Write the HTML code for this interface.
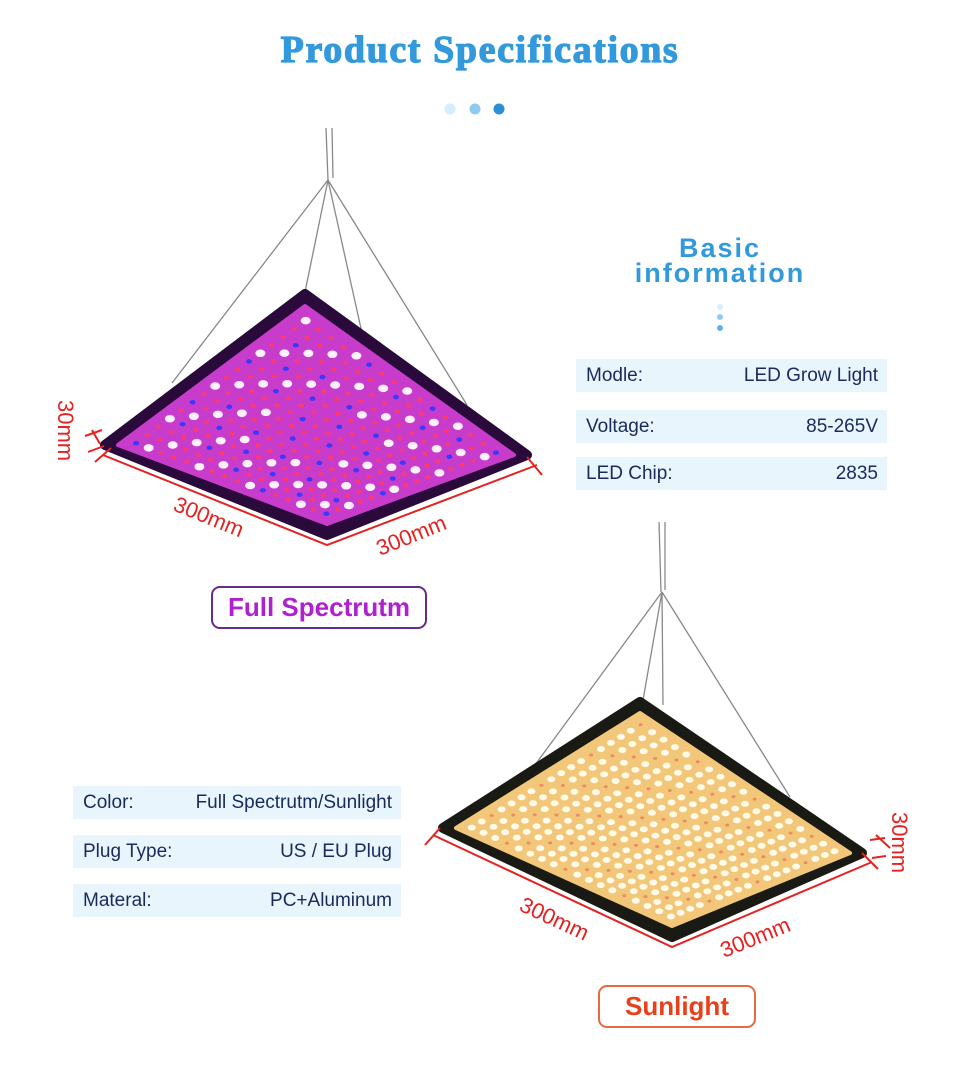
<!DOCTYPE html>
<html><head><meta charset="utf-8"><style>
body{margin:0;width:960px;height:1075px;background:#fff;overflow:hidden;position:relative;font-family:"Liberation Sans",sans-serif}
.t{position:absolute;left:0;width:960px;text-align:center;top:28px;font-family:"Liberation Serif",serif;font-weight:bold;font-size:38px;color:#3399dd;letter-spacing:1.6px;-webkit-text-stroke:1.2px #3399dd}
.bi{position:absolute;left:600px;width:240px;text-align:center;color:#3399dd;font-weight:bold;font-size:27px;letter-spacing:2px;line-height:25px;top:236px}
.row{position:absolute;height:33px;background:#e8f5fd;color:#1a2a5a;font-size:19px;line-height:33px;box-sizing:border-box;padding:0 9px 0 10px;display:flex;justify-content:space-between}
.lbl{position:absolute;box-sizing:border-box;border-radius:9px;font-weight:bold;font-size:26px;text-align:center}
svg{position:absolute;left:0;top:0}
</style></head><body>
<svg width="960" height="1075" id="s">
<circle cx="450" cy="109" r="5.5" fill="#d6edfb"/><circle cx="475" cy="109" r="5.5" fill="#8fcaf2"/><circle cx="499" cy="109" r="5.5" fill="#2e8fd9"/>
<circle cx="720" cy="307" r="3" fill="#d6edfb"/><circle cx="720" cy="317" r="3" fill="#8fcaf2"/><circle cx="720" cy="328" r="3" fill="#5fb0ea"/>
<g stroke="#888" stroke-width="1.3" fill="none">
<path d="M326 128 L328 180 M332 128 L333 178"/>
<path d="M328 180 L172 383 M328 180 L305 292 M328 180 L362 333 M328 180 L467 405"/>
<path d="M659 522 L661 592 M665 522 L665 590"/>
<path d="M662 592 L535 765 M662 592 L643 700 M662 592 L663 705 M662 592 L790 797"/>
</g>
<polygon points="305,294 527,455 327,535 105,445" fill="#2a0a3a" stroke="#2a0a3a" stroke-width="10" stroke-linejoin="round"/>
<polygon points="305,306 514,455 327,524 118,445" fill="#c83ccc" stroke="#c83ccc" stroke-width="4" stroke-linejoin="round"/>
<g id="p1"></g>
<polygon points="640,702 862,853 672,937 443,828" fill="#1a1a14" stroke="#1a1a14" stroke-width="10" stroke-linejoin="round"/>
<polygon points="640,713 850,853 672,926 456,828" fill="#f2c77a" stroke="#f2c77a" stroke-width="4" stroke-linejoin="round"/>
<g id="p2"></g>
<g stroke="#e52222" stroke-width="2" fill="none">
<path d="M103 455 L327 545 L537 465 M95 462 L111 448 M527 457 L542 475 M92 430 L100 444 M85 436 L102 430 M88 452 L104 446"/>
<path d="M433 835 L672 947 L872 862 M425 845 L440 828 M862 853 L878 869 M876 835 L890 848 M870 840 L885 838 M872 858 L886 856"/>
</g>
<g fill="#e52222" font-family="Liberation Sans" font-size="22">
<text transform="translate(172,510) rotate(22)">300mm</text>
<text transform="translate(380,556) rotate(-22)">300mm</text>
<text transform="translate(58,400) rotate(90)">30mm</text>
<text transform="translate(518,910) rotate(25)">300mm</text>
<text transform="translate(724,958) rotate(-22)">300mm</text>
<text transform="translate(892,812) rotate(90)">30mm</text>
</g>
</svg>
<div class="t">Product Specifications</div>
<div class="bi">Basic<br>information</div>
<div class="row" style="left:576px;top:359px;width:311px"><span>Modle:</span><span>LED Grow Light</span></div>
<div class="row" style="left:576px;top:410px;width:311px"><span>Voltage:</span><span>85-265V</span></div>
<div class="row" style="left:576px;top:457px;width:311px"><span>LED Chip:</span><span>2835</span></div>
<div class="row" style="left:73px;top:786px;width:328px"><span>Color:</span><span>Full Spectrutm/Sunlight</span></div>
<div class="row" style="left:73px;top:835px;width:328px"><span>Plug Type:</span><span>US / EU Plug</span></div>
<div class="row" style="left:73px;top:884px;width:328px"><span>Materal:</span><span>PC+Aluminum</span></div>
<div class="lbl" style="left:211px;top:586px;width:216px;height:43px;line-height:39px;border:2px solid #6a2a8a;color:#b020d0">Full Spectrutm</div>
<div class="lbl" style="left:598px;top:985px;width:158px;height:43px;line-height:39px;border:2px solid #e86a40;color:#e8401a">Sunlight</div>
<script>
function fill(id,q,cols,n){var g=document.getElementById(id),h='';
for(var i=0;i<n;i++)for(var j=0;j<n;j++){var u=(i+0.5)/n,v=(j+0.5)/n;
var x=(1-u)*(1-v)*q[0][0]+u*(1-v)*q[1][0]+u*v*q[2][0]+(1-u)*v*q[3][0];
var y=(1-u)*(1-v)*q[0][1]+u*(1-v)*q[1][1]+u*v*q[2][1]+(1-u)*v*q[3][1];
var c=cols(i,j,n);h+='<ellipse cx="'+x.toFixed(1)+'" cy="'+y.toFixed(1)+'" rx="'+c[1]+'" ry="'+(c[1]*0.75)+'" fill="'+c[0]+'"/>';}
g.innerHTML=h;}
fill('p1',[[305,312],[508,455],[327,518],[124,445]],function(i,j,n){var d=Math.max(Math.abs(i-n/2+0.5),Math.abs(j-n/2+0.5));
if((i+j)%4==0&&d>3)return['#fff0ff',5];if((i*3+j)%5==0)return['#3a3aff',3];return['#ff3a6a',2.5];},16);
fill('p2',[[640,718],[845,853],[672,921],[461,828]],function(i,j){if((i+j)%5==0)return['#f08a60',2];return['#fffbe8',4];},18);
</script>
</body></html>
